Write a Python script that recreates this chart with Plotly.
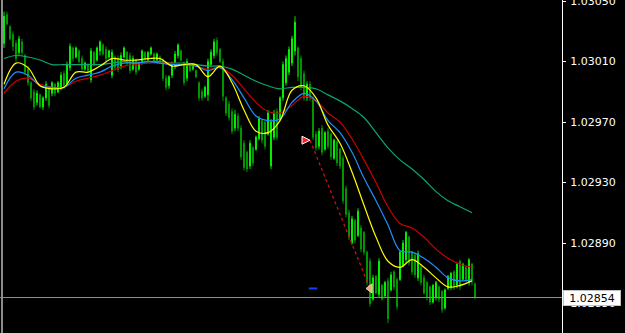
import plotly.graph_objects as go

# ---- data (bar index, prices) ----
bar_high = [1.03043,1.03043,1.03034,1.03030,1.03024,1.03027,1.03025,1.03015,1.03007,1.02997,
 1.02992,1.02991,1.02989,1.02987,1.02997,1.02993,1.02997,1.02996,1.02997,1.03003,
 1.03004,1.03010,1.03022,1.03020,1.03020,1.03018,1.03014,1.03010,1.03009,1.03019,
 1.03017,1.03020,1.03024,1.03022,1.03020,1.03018,1.03018,1.03014,1.03014,1.03016,
 1.03020,1.03017,1.03016,1.03014,1.03012,1.03010,1.03018,1.03017,1.03017,1.03020,
 1.03016,1.03016,1.03014,1.03012,1.03001,1.03001,1.03010,1.03017,1.03022,1.03018,
 1.03010,1.03012,1.03009,1.03009,1.03005,1.02997,1.02992,1.02994,1.03012,1.03018,
 1.03025,1.03026,1.03019,1.03012,1.02987,1.02984,1.02979,1.02978,1.02976,1.02968,
 1.02958,1.02951,1.02958,1.02954,1.02961,1.02974,1.02972,1.02971,1.02978,1.02972,
 1.02978,1.02979,1.02987,1.03010,1.03014,1.03020,1.03027,1.03040,1.03020,1.03014,
 1.03004,1.02997,1.02997,1.02987,1.02964,1.02966,1.02968,1.02964,1.02966,1.02963,
 1.02959,1.02958,1.02953,1.02948,1.02928,1.02912,1.02908,1.02906,1.02913,1.02902,
 1.02898,1.02885,1.02880,1.02869,1.02869,1.02880,1.02863,1.02865,1.02867,1.02871,
 1.02872,1.02867,1.02885,1.02892,1.02898,1.02895,1.02885,1.02884,1.02885,1.02875,
 1.02869,1.02865,1.02862,1.02863,1.02865,1.02862,1.02859,1.02860,1.02869,1.02871,
 1.02872,1.02877,1.02879,1.02877,1.02875,1.02880,1.02877,1.02864]
bar_low = [1.03019,1.03034,1.03024,1.03017,1.03010,1.03014,1.03014,1.03001,1.02994,1.02984,
 1.02978,1.02981,1.02979,1.02978,1.02984,1.02979,1.02987,1.02987,1.02989,1.02991,
 1.02992,1.02994,1.03004,1.03010,1.03012,1.03009,1.03004,1.03004,1.03003,1.02996,
 1.03007,1.03010,1.03014,1.03014,1.03010,1.03012,1.02999,1.03004,1.03003,1.03005,
 1.03012,1.03007,1.03002,1.03004,1.03001,1.03004,1.03008,1.03010,1.03010,1.03014,
 1.03009,1.03010,1.03009,1.02997,1.02991,1.02992,1.02999,1.03005,1.03012,1.03010,
 1.02994,1.02997,1.03003,1.03004,1.02999,1.02984,1.02984,1.02986,1.02984,1.03006,
 1.03012,1.03014,1.03009,1.02984,1.02974,1.02971,1.02962,1.02964,1.02964,1.02945,
 1.02938,1.02937,1.02939,1.02941,1.02951,1.02958,1.02956,1.02952,1.02961,1.02939,
 1.02958,1.02958,1.02971,1.02984,1.02994,1.03001,1.03007,1.03014,1.02997,1.02991,
 1.02984,1.02984,1.02984,1.02958,1.02951,1.02952,1.02948,1.02951,1.02952,1.02945,
 1.02945,1.02941,1.02939,1.02916,1.02907,1.02892,1.02889,1.02890,1.02894,1.02884,
 1.02882,1.02862,1.02848,1.02852,1.02856,1.02854,1.02852,1.02854,1.02837,1.02858,
 1.02859,1.02846,1.02865,1.02874,1.02877,1.02875,1.02869,1.02867,1.02865,1.02862,
 1.02856,1.02852,1.02849,1.02850,1.02852,1.02851,1.02844,1.02846,1.02859,1.02859,
 1.02859,1.02860,1.02859,1.02865,1.02864,1.02862,1.02862,1.02853]
bar_open = [1.03022,1.03041,1.03033,1.03028,1.03022,1.03016,1.03023,1.03014,1.03005,1.02996,
 1.02990,1.02983,1.02988,1.02980,1.02986,1.02992,1.02989,1.02995,1.02990,1.02993,
 1.03002,1.02995,1.03006,1.03019,1.03013,1.03017,1.03012,1.03005,1.03008,1.02998,
 1.03016,1.03011,1.03017,1.03021,1.03018,1.03013,1.03001,1.03013,1.03012,1.03007,
 1.03013,1.03016,1.03014,1.03005,1.03011,1.03005,1.03010,1.03016,1.03011,1.03015,
 1.03015,1.03011,1.03013,1.03011,1.02999,1.02994,1.03001,1.03007,1.03014,1.03017,
 1.03009,1.02999,1.03008,1.03005,1.03004,1.02996,1.02990,1.02987,1.02988,1.03008,
 1.03014,1.03024,1.03018,1.03010,1.02986,1.02982,1.02977,1.02966,1.02974,1.02966,
 1.02956,1.02950,1.02941,1.02953,1.02952,1.02959,1.02971,1.02970,1.02962,1.02941,
 1.02960,1.02977,1.02972,1.02986,1.02996,1.03003,1.03009,1.03017,1.03019,1.03012,
 1.03002,1.02986,1.02995,1.02986,1.02962,1.02954,1.02966,1.02952,1.02964,1.02962,
 1.02946,1.02957,1.02952,1.02946,1.02926,1.02910,1.02890,1.02905,1.02895,1.02900,
 1.02897,1.02884,1.02878,1.02853,1.02868,1.02856,1.02862,1.02855,1.02865,1.02859,
 1.02871,1.02866,1.02866,1.02875,1.02879,1.02894,1.02884,1.02882,1.02867,1.02874,
 1.02867,1.02864,1.02861,1.02851,1.02854,1.02861,1.02858,1.02847,1.02860,1.02861,
 1.02871,1.02862,1.02878,1.02866,1.02874,1.02864,1.02876,1.02863]
bar_close = [1.03040,1.03035,1.03025,1.03020,1.03012,1.03025,1.03016,1.03003,1.02996,1.02986,
 1.02980,1.02989,1.02980,1.02986,1.02995,1.02981,1.02996,1.02989,1.02996,1.03001,
 1.02994,1.03008,1.03020,1.03012,1.03019,1.03010,1.03005,1.03009,1.03004,1.03017,
 1.03008,1.03019,1.03023,1.03015,1.03012,1.03017,1.03016,1.03006,1.03005,1.03014,
 1.03019,1.03009,1.03004,1.03012,1.03003,1.03009,1.03017,1.03012,1.03016,1.03019,
 1.03010,1.03015,1.03010,1.02999,1.02993,1.03000,1.03008,1.03015,1.03021,1.03011,
 1.02996,1.03010,1.03004,1.03008,1.03000,1.02986,1.02986,1.02993,1.03010,1.03016,
 1.03023,1.03016,1.03010,1.02987,1.02976,1.02973,1.02964,1.02975,1.02966,1.02947,
 1.02940,1.02939,1.02956,1.02943,1.02960,1.02972,1.02958,1.02954,1.02976,1.02970,
 1.02976,1.02960,1.02986,1.03008,1.03012,1.03018,1.03025,1.03036,1.03000,1.02993,
 1.02986,1.02995,1.02986,1.02960,1.02953,1.02964,1.02950,1.02963,1.02954,1.02947,
 1.02958,1.02943,1.02941,1.02918,1.02909,1.02894,1.02906,1.02892,1.02911,1.02886,
 1.02884,1.02864,1.02850,1.02867,1.02857,1.02878,1.02853,1.02864,1.02840,1.02869,
 1.02861,1.02848,1.02884,1.02890,1.02897,1.02877,1.02871,1.02869,1.02883,1.02864,
 1.02857,1.02854,1.02851,1.02862,1.02864,1.02853,1.02846,1.02859,1.02868,1.02870,
 1.02861,1.02876,1.02861,1.02876,1.02866,1.02879,1.02865,1.02854]
bar_index = list(range(len(bar_close)))

# moving averages, sampled every 4 bars
ma_index = list(range(0, 160, 4))
ma_fast = [1.02995,1.03009,1.03006,1.02994,1.02992,1.02993,1.03003,1.03003,1.03007,1.03012,
 1.03011,1.03011,1.03012,1.03012,1.03007,1.03008,1.03008,1.03000,1.03007,1.02996,
 1.02978,1.02964,1.02963,1.02971,1.02991,1.02994,1.02986,1.02968,1.02956,1.02937,
 1.02915,1.02894,1.02878,1.02874,1.02879,1.02874,1.02867,1.02861,1.02862,1.02865]
ma_mid = [1.02992,1.03003,1.03001,1.02994,1.02993,1.02993,1.02999,1.03001,1.03003,1.03007,
 1.03009,1.03009,1.03010,1.03009,1.03008,1.03008,1.03007,1.03004,1.03006,1.02998,
 1.02986,1.02974,1.02971,1.02972,1.02983,1.02989,1.02984,1.02971,1.02963,1.02950,
 1.02933,1.02918,1.02902,1.02885,1.02884,1.02880,1.02874,1.02867,1.02865,1.02866]
ma_slow = [1.02989,1.02997,1.02999,1.02995,1.02993,1.02993,1.02997,1.02999,1.03001,1.03004,
 1.03007,1.03008,1.03009,1.03009,1.03009,1.03008,1.03007,1.03005,1.03006,1.03001,
 1.02992,1.02983,1.02977,1.02976,1.02981,1.02987,1.02984,1.02976,1.02970,1.02959,
 1.02945,1.02930,1.02914,1.02903,1.02900,1.02894,1.02886,1.02880,1.02876,1.02874]
ma_long = [1.03012,1.03014,1.03013,1.03011,1.03008,1.03008,1.03008,1.03008,1.03008,1.03009,
 1.03010,1.03009,1.03010,1.03010,1.03009,1.03009,1.03008,1.03007,1.03007,1.03005,
 1.03001,1.02997,1.02994,1.02992,1.02993,1.02993,1.02992,1.02988,1.02984,1.02979,
 1.02973,1.02963,1.02953,1.02945,1.02939,1.02932,1.02924,1.02918,1.02914,1.02910]

trade_bars = [102, 122]
trade_prices = [1.02958, 1.02860]
level_bar = [103]
level_price = [1.02860]
current_price = 1.02854
tick_values = [1.03050, 1.03010, 1.02970, 1.02930, 1.02890, 1.02850]

W, H = 625, 333
AX = 562  # price scale line position (px)

fig = go.Figure()
fig.add_trace(go.Candlestick(
    x=bar_index, open=bar_open, high=bar_high, low=bar_low, close=bar_close,
    increasing=dict(line=dict(color="#00ff00", width=0.9), fillcolor="#00ff00"),
    decreasing=dict(line=dict(color="#00a000", width=0.9), fillcolor="#00a000"),
    whiskerwidth=0, hoverinfo="skip", showlegend=False))

for vals, col in [(ma_long, "#0aa66e"), (ma_slow, "#cc0000"),
                  (ma_mid, "#1e90ff"), (ma_fast, "#ffff00")]:
    fig.add_trace(go.Scatter(x=ma_index, y=vals, mode="lines",
                             line=dict(color=col, width=1.2, shape="spline"),
                             hoverinfo="skip", showlegend=False))

fig.add_trace(go.Scatter(x=trade_bars, y=trade_prices, mode="lines",
                         line=dict(color="#d01010", width=1.3, dash="dot"),
                         hoverinfo="skip", showlegend=False))
fig.add_trace(go.Scatter(x=trade_bars[:1], y=trade_prices[:1], mode="markers",
                         marker=dict(symbol="arrow-right", size=8, color="#ff2020",
                                     line=dict(color="white", width=1)),
                         hoverinfo="skip", showlegend=False))
fig.add_trace(go.Scatter(x=trade_bars[1:], y=trade_prices[1:], mode="markers",
                         marker=dict(symbol="triangle-left", size=8, color="#e8a878",
                                     line=dict(color="#f0d0b0", width=1)),
                         hoverinfo="skip", showlegend=False))
fig.add_trace(go.Scatter(x=level_bar, y=level_price, mode="markers",
                         marker=dict(symbol="line-ew", size=6,
                                     line=dict(color="#1040ff", width=2)),
                         hoverinfo="skip", showlegend=False))

px_per_bar = 3.0
x0 = -4 / px_per_bar
ppx = 0.00000659
fig.update_layout(
    width=W, height=H, margin=dict(l=0, r=0, t=0, b=0, autoexpand=False),
    paper_bgcolor="black", plot_bgcolor="black", boxgap=0.55,
    font=dict(family="DejaVu Sans", size=11, color="white"),
    xaxis=dict(domain=[0, AX / W], range=[x0, x0 + AX / px_per_bar],
               visible=False, rangeslider=dict(visible=False), fixedrange=True),
    yaxis=dict(side="right", range=[1.03050 - H * ppx, 1.030507], automargin=False,
               tickvals=tick_values, ticktext=[f"{v:.5f}" for v in tick_values],
               showgrid=False, zeroline=False, showline=True, linecolor="white",
               linewidth=1, ticks="outside", ticklen=3, tickcolor="white",
               tickfont=dict(family="DejaVu Sans", size=11, color="white"),
               ticklabelstandoff=2, ticklabeloverflow="allow"),
    shapes=[
        dict(type="line", xref="paper", yref="y", x0=0, x1=AX / W,
             y0=current_price, y1=current_price, line=dict(color="#8a8f98", width=1)),
        dict(type="line", xref="paper", yref="paper", x0=2 / W, x1=2 / W, y0=0, y1=1,
             line=dict(color="#8c8c8c", width=2)),
    ],
    annotations=[dict(xref="paper", yref="y", x=(AX + 1) / W, y=current_price,
                      xanchor="left", yanchor="middle", text=f"{current_price:.5f}",
                      showarrow=False, bgcolor="white", bordercolor="#c0c0c0",
                      borderwidth=1, borderpad=1, width=54, height=12, align="center",
                      font=dict(family="DejaVu Sans", size=11, color="black"))],
)

fig.write_html("out.html")
